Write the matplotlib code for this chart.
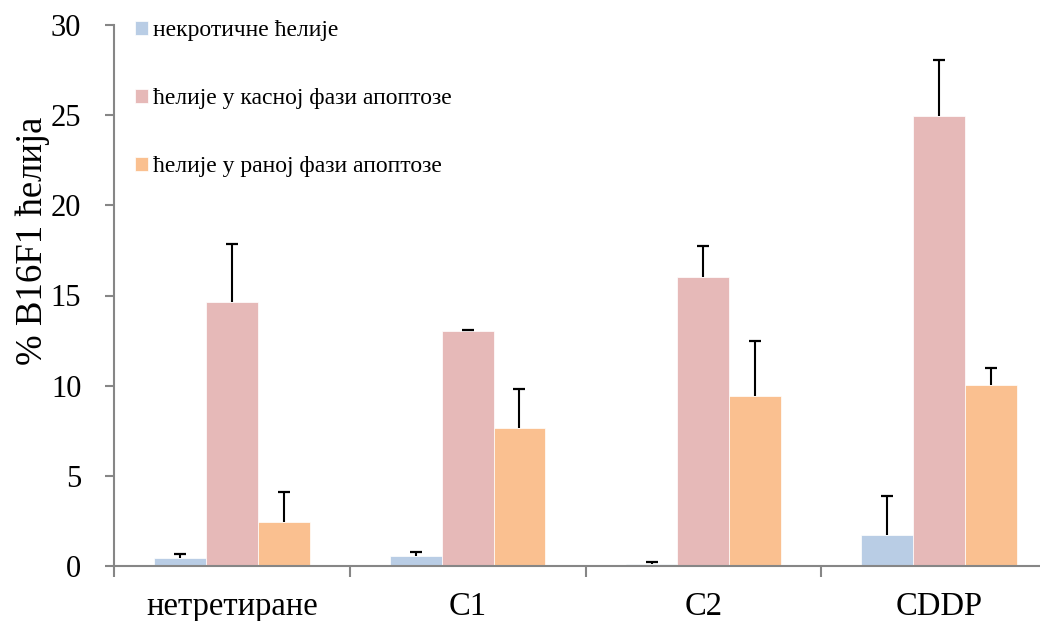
import numpy as np
import matplotlib
matplotlib.use('Agg')
import matplotlib.pyplot as plt

plt.rcParams['font.family'] = ['Liberation Serif', 'DejaVu Serif']

# categories and series
categories = ['нетретиране', 'C1', 'C2', 'CDDP']
series_names = ['некротичне ћелије', 'ћелије у касној фази апоптозе', 'ћелије у раној фази апоптозе']
necrotic = [0.48, 0.59, 0.15, 1.75]
late_apoptosis = [14.63, 13.05, 16.03, 24.95]
early_apoptosis = [2.47, 7.65, 9.42, 10.05]
necrotic_err = [0.2, 0.18, 0.07, 2.15]
late_err = [3.25, 0.03, 1.73, 3.08]
early_err = [1.62, 2.15, 3.05, 0.95]

colors = ['#B9CDE5', '#E6B9B8', '#FAC090']
values = [necrotic, late_apoptosis, early_apoptosis]
errors = [necrotic_err, late_err, early_err]

fig = plt.figure(figsize=(10.4, 6.21), dpi=100)
ax = fig.add_axes([114 / 1040, 1 - 566.3 / 621, (1057 - 114) / 1040, (566.3 - 24.7) / 621])

x = np.arange(len(categories))
width = 0.22
for i in range(3):
    pos = x + (i - 1) * width
    vals = np.array(values[i])
    errs = np.array(errors[i])
    ax.bar(pos, vals, width, color=colors[i], edgecolor='white',
           linewidth=0.5, label=series_names[i], zorder=2)
    # only the upper half of the error bar, with a single cap on top
    ax.errorbar(pos, vals, yerr=[np.zeros(len(x)), errs],
                fmt='none', ecolor='black', elinewidth=1.5, capsize=0, zorder=3)
    ax.plot(pos, vals + errs, linestyle='none', marker='_', markersize=9,
            markeredgewidth=1.6, color='black', zorder=3)

ax.set_xlim(-0.5, 3.5)
ax.set_ylim(0, 30)
ax.set_yticks([0, 5, 10, 15, 20, 25, 30])

spine_color = '#868686'
for side in ['top', 'right']:
    ax.spines[side].set_visible(False)
for side in ['left', 'bottom']:
    ax.spines[side].set_color(spine_color)
    ax.spines[side].set_linewidth(1.5)

ax.tick_params(axis='y', direction='out', length=6.5, width=1.5, color=spine_color,
               labelsize=22, pad=17)
ax.set_xticks(x)
ax.set_xticklabels(categories)
ax.set_xticks(np.arange(-0.5, 4, 1), minor=True)
ax.tick_params(axis='x', which='major', length=0, labelsize=23.5, pad=18.5)
ax.tick_params(axis='x', which='minor', direction='out', length=8, width=1.5, color=spine_color)

fig.text(33 / 1040, 1 - 241 / 621, '% B16F1 ћелија', rotation=90, ha='center', va='center',
         fontsize=26.5)

ax.legend(loc='upper left', bbox_to_anchor=(135 / 1040, 1 - 20 / 621),
          bbox_transform=fig.transFigure, frameon=False, fontsize=17,
          handlelength=0.55, handleheight=0.55, handletextpad=0.2,
          labelspacing=2.0, borderaxespad=0, borderpad=0)

fig.savefig('out.png', dpi=100)
